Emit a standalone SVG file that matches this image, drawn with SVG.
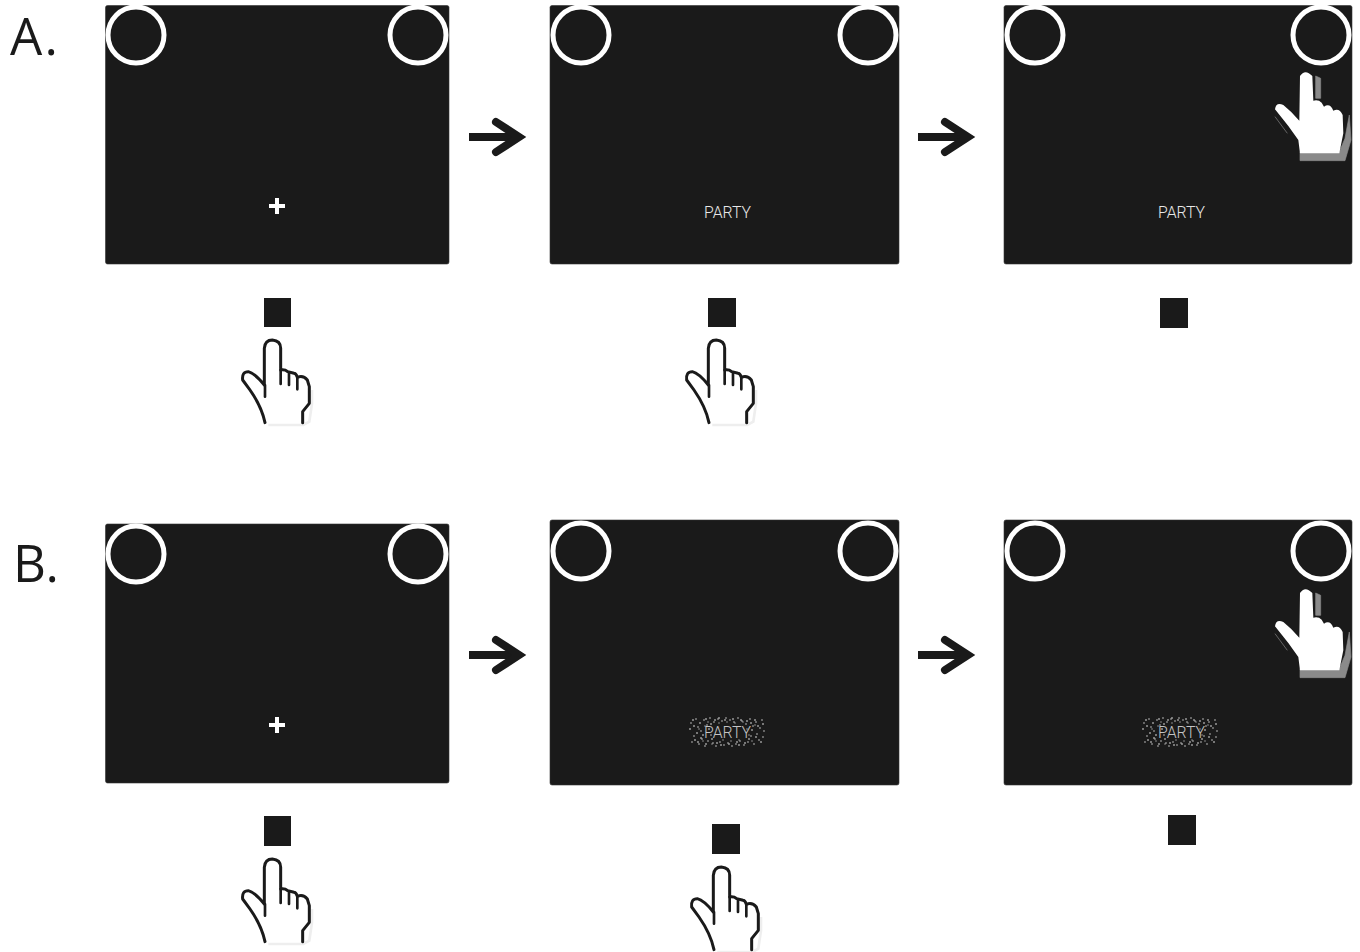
<svg xmlns="http://www.w3.org/2000/svg" width="1360" height="952" viewBox="0 0 1360 952">
<style>
.panel{fill:#1a1a1a;stroke:#333;stroke-width:.6}
.ring{fill:none;stroke:#fff;stroke-width:5}
.sq{fill:#1a1a1a}
.party{font-family:"Roboto","Liberation Sans",sans-serif;font-weight:300;font-size:17px;fill:#e8e8e8;text-anchor:middle}
.party.noisy{fill:#c4c4c4}
.lab{font-family:"Open Sans","Liberation Sans",sans-serif;font-size:51px;fill:#1a1a1a}
.shaft{fill:none;stroke:#1a1a1a;stroke-width:8}
.head{fill:none;stroke:#1a1a1a;stroke-width:8;stroke-linecap:round;stroke-linejoin:miter}
</style>
<defs>
<g id="plus"><path d="M-8 0H8M0-8V8" stroke="#fff" stroke-width="4" fill="none"/></g>
<g id="arrow"><path class="shaft" d="M0 0H48"/><path class="head" d="M27-15L50 0L27 15"/></g>
<g id="hand" transform="translate(220 290) scale(.3333)">
<path d="M145 405H250L268 395L276 340V300" fill="none" stroke="#eee" stroke-width="8"/>
<path d="M135 398Q125 350 90 300L68 270Q65 245 85 245Q105 250 133 285V175Q135 150 157 150Q182 152 182 175V240Q195 238 203 245L222 250Q228 250 232 262Q250 255 262 270L268 290V340L248 365V398" fill="#fff" stroke="#1a1a1a" stroke-width="9" stroke-linejoin="round" stroke-linecap="round"/>
<path d="M135 285V320M182 240V282M207 250V285M232 262V298" fill="none" stroke="#1a1a1a" stroke-width="8" stroke-linecap="round"/>
</g>
<g id="whitehand" transform="scale(.3333)">
<path d="M197 228L212 235V295H197ZM150 455H268L285 415L298 345L303 420L285 482H150ZM75 350L112 400" fill="#8a8a8a" stroke="#8a8a8a" stroke-width="2"/>
<path d="M150 228Q165 205 187 228L190 302Q205 298 215 308L222 320Q240 308 250 332Q268 322 278 345L280 400L268 460H150L145 420L115 378L75 328Q78 305 100 315Q125 335 148 362Z" fill="#fff"/>
</g>
<g id="noise" fill="none" stroke-linecap="square">
<path stroke="#777" stroke-width="2" d="M-37-3h0M-34-12h0M-32 8h0M-30 1h0M-27-9h0M-24 3h0M-21-13h0M-21 12h0M-18-3h0M-15 7h0M-12-12h0M-10 11h0M-6 13h0M-2-12h0M2 12h0M6-13h0M10 10h0M14-12h0M18 11h0M20-11h0M22 7h0M25-2h0M28-12h0M31-6h0M34 10h0M36-8h0M-33-6h0M-29 10h0M-26 6h0M-16-8h0M-8-14h0M12 13h0M24-9h0M29 5h0"/>
<path stroke="#aaa" stroke-width="1.4" d="M-36-9h0M-33 4h0M-35 10h0M-31-13h0M-29-5h0M-28 12h0M-26-1h0M-25 7h0M-23-12h0M-22 14h0M-20-7h0M-19 9h0M-17-14h0M-16 3h0M-14 11h0M-13-10h0M-11 14h0M-9-13h0M-7 10h0M-5-11h0M-3 13h0M-1-14h0M1 11h0M3-12h0M5 14h0M7-10h0M9 12h0M11-14h0M13 9h0M15-11h0M17 13h0M19-8h0M21 10h0M23-13h0M24 4h0M26-6h0M27 12h0M29-10h0M30 2h0M32 8h0M33-4h0M35-12h0M36 5h0M37-1h0"/>
<path stroke="#ccc" stroke-width="1.2" d="M-28-3h0M-24 9h0M-22-6h0M-19-10h0M-15 12h0M-8-9h0M-4 8h0M0-10h0M4 9h0M8-9h0M12 8h0M16-10h0M20-3h0M22 3h0M25 9h0M28-7h0"/>
</g>
</defs>
<g id="label-a"><text class="lab" x="10" y="55" textLength="48">A.</text></g>
<g id="label-b"><text class="lab" x="13" y="582" textLength="46">B.</text></g>

<g id="panel-a1"><rect class="panel" x="105.500" y="5.500" width="343.500" height="258.500" rx="2"/><circle class="ring" cx="136" cy="35" r="28"/><circle class="ring" cx="418" cy="35" r="28"/><use href="#plus" x="277" y="206"/></g>
<g id="panel-a2"><rect class="panel" x="550" y="5.500" width="349" height="258.500" rx="2"/><circle class="ring" cx="581" cy="35" r="28"/><circle class="ring" cx="868" cy="35" r="28"/><text class="party" x="727.500" y="218" textLength="47" lengthAdjust="spacingAndGlyphs">PARTY</text></g>
<g id="panel-a3"><rect class="panel" x="1004" y="5.500" width="348" height="258.500" rx="2"/><circle class="ring" cx="1035" cy="35" r="28"/><circle class="ring" cx="1321" cy="35" r="28"/><text class="party" x="1181.500" y="218" textLength="47" lengthAdjust="spacingAndGlyphs">PARTY</text><use href="#whitehand" x="1250" y="0"/></g>
<g id="panel-b1"><rect class="panel" x="105.500" y="524" width="343.500" height="259" rx="2"/><circle class="ring" cx="136" cy="554" r="28"/><circle class="ring" cx="418" cy="554" r="28"/><use href="#plus" x="277" y="725"/></g>
<g id="panel-b2"><rect class="panel" x="550" y="520" width="349" height="265" rx="2"/><circle class="ring" cx="581" cy="551" r="28"/><circle class="ring" cx="868" cy="551" r="28"/><use href="#noise" x="727" y="732"/><text class="party noisy" x="727.500" y="738" textLength="47" lengthAdjust="spacingAndGlyphs">PARTY</text></g>
<g id="panel-b3"><rect class="panel" x="1004" y="520" width="348" height="265" rx="2"/><circle class="ring" cx="1035" cy="551" r="28"/><circle class="ring" cx="1321" cy="551" r="28"/><use href="#noise" x="1180" y="732"/><text class="party noisy" x="1181.500" y="738" textLength="47" lengthAdjust="spacingAndGlyphs">PARTY</text><use href="#whitehand" x="1250" y="517"/></g>

<g id="response-a1"><rect class="sq" x="264" y="298" width="27" height="29"/><use href="#hand"/></g>
<g id="response-a2"><rect class="sq" x="708" y="298" width="28" height="29"/><use href="#hand" x="444"/></g>
<g id="response-a3"><rect class="sq" x="1160" y="298" width="28" height="30"/></g>
<g id="response-b1"><rect class="sq" x="264" y="816" width="27" height="30"/><use href="#hand" y="519"/></g>
<g id="response-b2"><rect class="sq" x="712" y="824" width="28" height="30"/><use href="#hand" x="449" y="527"/></g>
<g id="response-b3"><rect class="sq" x="1168" y="815" width="28" height="30"/></g>

<g id="connectors">
<use href="#arrow" x="469" y="137"/>
<use href="#arrow" x="918" y="137"/>
<use href="#arrow" x="469" y="655"/>
<use href="#arrow" x="918" y="655"/>
</g>
</svg>
